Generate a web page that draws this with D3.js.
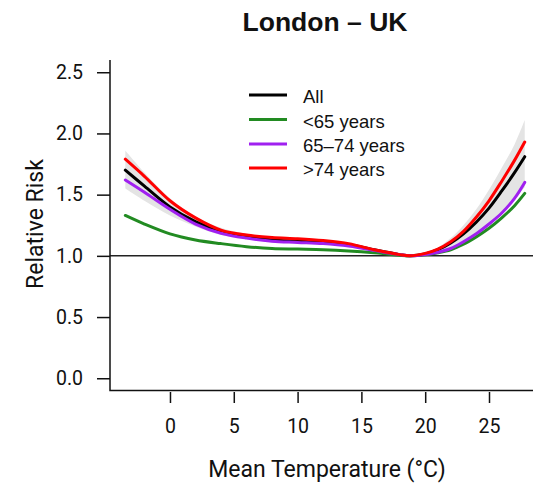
<!DOCTYPE html>
<html>
<head>
<meta charset="utf-8">
<script src="https://cdn.jsdelivr.net/npm/d3@7/dist/d3.min.js"></script>
<style>
  html, body { margin: 0; padding: 0; background: #fff; }
  svg { display: block; }
  text { font-family: Roboto, "Liberation Sans", Arial, sans-serif; fill: #111; }
</style>
</head>
<body>
<svg id="chart" width="533" height="485"></svg>
<script>
// Mean temperature grid (°C)
const temps = [-3.5, -2, 0, 2, 4, 6, 8, 10, 12, 14, 16, 17, 18, 18.8, 20, 21, 22, 23, 24, 25, 26, 27, 27.8];

// Relative risk by age group
const rrAll     = [1.70, 1.57, 1.40, 1.28, 1.20, 1.16, 1.13, 1.12, 1.11, 1.09, 1.05, 1.03, 1.01, 1.00, 1.015, 1.05, 1.105, 1.18, 1.275, 1.39, 1.53, 1.68, 1.81];
const rrUnder65 = [1.33, 1.26, 1.18, 1.13, 1.10, 1.075, 1.06, 1.055, 1.05, 1.04, 1.025, 1.015, 1.005, 1.00, 1.008, 1.025, 1.05, 1.095, 1.155, 1.225, 1.31, 1.41, 1.51];
const rr65to74  = [1.62, 1.52, 1.38, 1.26, 1.185, 1.145, 1.12, 1.11, 1.10, 1.08, 1.045, 1.025, 1.01, 1.00, 1.01, 1.03, 1.06, 1.115, 1.18, 1.26, 1.35, 1.47, 1.60];
const rrOver74  = [1.79, 1.65, 1.45, 1.31, 1.21, 1.17, 1.15, 1.14, 1.125, 1.10, 1.05, 1.03, 1.01, 1.00, 1.02, 1.055, 1.115, 1.20, 1.315, 1.45, 1.61, 1.78, 1.93];

// 95% confidence band for all ages
const ciLow  = [1.55, 1.45, 1.33, 1.24, 1.17, 1.14, 1.11, 1.10, 1.09, 1.07, 1.04, 1.025, 1.007, 1.00, 1.008, 1.03, 1.065, 1.11, 1.17, 1.25, 1.35, 1.46, 1.56];
const ciHigh = [1.86, 1.68, 1.47, 1.32, 1.23, 1.18, 1.15, 1.14, 1.13, 1.11, 1.06, 1.035, 1.013, 1.00, 1.022, 1.07, 1.145, 1.25, 1.38, 1.54, 1.72, 1.91, 2.11];

const seriesNames  = ["All", "<65 years", "65\u201374 years", ">74 years"];
const seriesValues = [rrAll, rrUnder65, rr65to74, rrOver74];
const seriesColors = ["#000000", "#228B22", "#A020F0", "#FF0000"];

const xTicks = [0, 5, 10, 15, 20, 25];
const yTicks = [0, 0.5, 1, 1.5, 2, 2.5];

const svg = d3.select("#chart");

const x = d3.scaleLinear().domain([-4.7, 29.2]).range([110, 542.6]);
const y = d3.scaleLinear().domain([-0.1, 2.6]).range([390.5, 60]);

const smooth = d3.curveCatmullRom.alpha(0.5);

// confidence band
const band = d3.area()
  .x((d, i) => x(temps[i]))
  .y0((d, i) => y(ciLow[i]))
  .y1((d, i) => y(ciHigh[i]))
  .curve(smooth);
svg.append("path")
  .datum(temps)
  .attr("d", band)
  .attr("fill", "#e4e4e4");

// reference line at RR = 1
svg.append("line")
  .attr("x1", x.range()[0]).attr("x2", x.range()[1])
  .attr("y1", y(1)).attr("y2", y(1))
  .attr("stroke", "#222").attr("stroke-width", 1.5);

// risk curves
const line = d3.line()
  .x((d, i) => x(temps[i]))
  .y(d => y(d))
  .curve(smooth);
seriesValues.forEach((vals, k) => {
  svg.append("path")
    .datum(vals)
    .attr("d", line)
    .attr("fill", "none")
    .attr("stroke", seriesColors[k])
    .attr("stroke-width", 3)
    .attr("stroke-linecap", "round");
});

// L-shaped frame
svg.append("path")
  .attr("d", `M${x.range()[0]},${y.range()[1]}V${y.range()[0]}H${x.range()[1]}`)
  .attr("fill", "none").attr("stroke", "#111").attr("stroke-width", 1.5);

// y axis
const yAxis = d3.axisLeft(y).tickValues(yTicks).tickFormat(d3.format(".1f"))
  .tickSize(13).tickPadding(14);
const gy = svg.append("g").attr("transform", `translate(${x.range()[0]},0)`).call(yAxis);
gy.select(".domain").remove();
gy.selectAll(".tick line").attr("stroke", "#111").attr("stroke-width", 1.5);
gy.selectAll(".tick text").style("font-size", "19.5px").attr("fill", "#111")
  .style("font-family", "Roboto, sans-serif");

// x axis (offset slightly below the frame)
const xAxis = d3.axisBottom(x).tickValues(xTicks).tickFormat(d3.format("d"))
  .tickSize(11).tickPadding(16);
const gx = svg.append("g").attr("transform", `translate(0,392)`).call(xAxis);
gx.select(".domain").remove();
gx.selectAll(".tick line").attr("stroke", "#111").attr("stroke-width", 1.5);
gx.selectAll(".tick text").style("font-size", "19.5px").attr("fill", "#111")
  .style("font-family", "Roboto, sans-serif");

// axis titles
svg.append("text")
  .attr("x", 327).attr("y", 477)
  .attr("text-anchor", "middle")
  .style("font-size", "23px")
  .text("Mean Temperature (\u00B0C)");
svg.append("text")
  .attr("transform", "translate(43,224) rotate(-90)")
  .attr("text-anchor", "middle")
  .style("font-size", "23px")
  .text("Relative Risk");

// title
svg.append("text")
  .attr("x", 325).attr("y", 31)
  .attr("text-anchor", "middle")
  .style("font-family", "'Liberation Sans', Arial, sans-serif")
  .style("font-size", "26.5px").style("font-weight", "bold")
  .text("London \u2013 UK");

// legend
const legendRows = [95, 119.5, 144, 168];
const lg = svg.append("g");
seriesNames.forEach((name, k) => {
  lg.append("line")
    .attr("x1", 249).attr("x2", 287)
    .attr("y1", legendRows[k]).attr("y2", legendRows[k])
    .attr("stroke", seriesColors[k]).attr("stroke-width", 3);
  lg.append("text")
    .attr("x", 303).attr("y", legendRows[k] + 8)
    .style("font-family", "'Liberation Sans', Arial, sans-serif")
    .style("font-size", "18.5px")
    .text(name);
});
</script>
</body>
</html>
